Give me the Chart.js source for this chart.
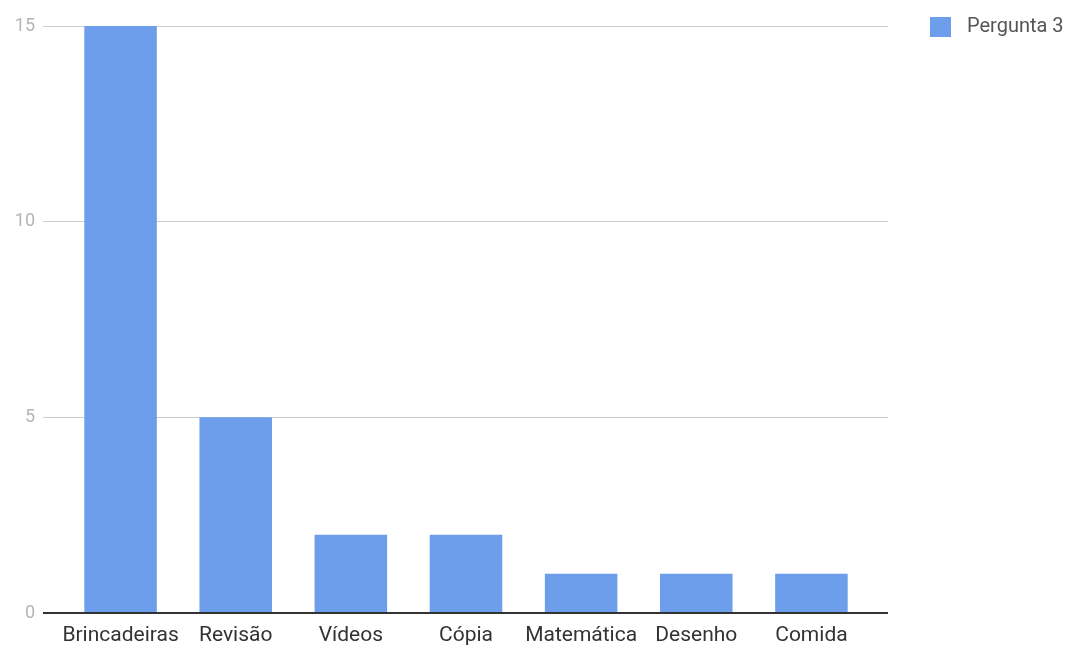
<!DOCTYPE html>
<html>
<head>
<meta charset="utf-8">
<script src="https://cdn.jsdelivr.net/npm/chart.js@4.4.0/dist/chart.umd.min.js"></script>
<style>
  body { margin: 0; background: #fff; }
  #wrap { width: 1075px; height: 649px; }
</style>
</head>
<body>
<div id="wrap"><canvas id="grafico"></canvas></div>
<script>
const categorias = ["Brincadeiras", "Revisão", "Vídeos", "Cópia", "Matemática", "Desenho", "Comida"];
const valores = [15, 5, 2, 2, 1, 1, 1];
const nomeSerie = "Pergunta 3";
const ticksY = [0, 5, 10, 15];

const ctx = document.getElementById("grafico").getContext("2d");

// color de la rejilla: la línea del cero es más oscura
const colorRejilla = (c) => (c.tick && c.tick.value === 0 ? "#333333" : "#cccccc");
const anchoRejilla = (c) => (c.tick && c.tick.value === 0 ? 2 : 1);

// leyenda dibujada a mano arriba a la derecha
const leyendaPlugin = {
  id: "leyenda",
  afterDraw(chart) {
    const c = chart.ctx;
    const ds = chart.data.datasets[0];
    c.save();
    c.fillStyle = ds.backgroundColor;
    c.fillRect(930, 17, 21, 20);
    c.fillStyle = "#555555";
    c.font = "20px Roboto";
    c.textBaseline = "middle";
    c.fillText(ds.label, 967, 27);
    c.restore();
  },
};

new Chart(ctx, {
  type: "bar",
  data: {
    labels: categorias,
    datasets: [
      {
        label: nomeSerie,
        data: valores,
        backgroundColor: "#6d9eeb",
        barPercentage: 0.63,
        categoryPercentage: 1,
      },
    ],
  },
  options: {
    responsive: true,
    maintainAspectRatio: false,
    animation: false,
    layout: { padding: { top: 26, right: 187, left: 0, bottom: 0 } },
    plugins: {
      legend: { display: false },
      tooltip: { enabled: false },
    },
    scales: {
      x: {
        grid: { display: false, drawTicks: false },
        border: { display: false },
        ticks: {
          color: "#333333",
          font: { family: "Roboto", size: 21 },
          padding: 10,
          maxRotation: 0,
          autoSkip: false,
        },
        afterFit: (s) => { s.height = 36; },
      },
      y: {
        position: "left",
        min: 0,
        max: 15,
        afterBuildTicks: (s) => { s.ticks = ticksY.map((v) => ({ value: v })); },
        grid: { color: colorRejilla, lineWidth: anchoRejilla, drawTicks: true, tickLength: 20 },
        border: { display: false },
        ticks: {
          color: "#b5b5b5",
          font: { family: "Roboto", size: 18 },
          padding: 8,
        },
        afterFit: (s) => { s.width = 63; },
      },
      yDer: {
        type: "linear",
        position: "right",
        min: 0,
        max: 15,
        afterBuildTicks: (s) => { s.ticks = ticksY.map((v) => ({ value: v })); },
        grid: { color: colorRejilla, lineWidth: anchoRejilla, drawOnChartArea: false, drawTicks: true, tickLength: 19 },
        border: { display: false },
        ticks: { display: false },
        afterFit: (s) => { s.width = 19; },
      },
    },
  },
  plugins: [leyendaPlugin],
});
</script>
</body>
</html>
